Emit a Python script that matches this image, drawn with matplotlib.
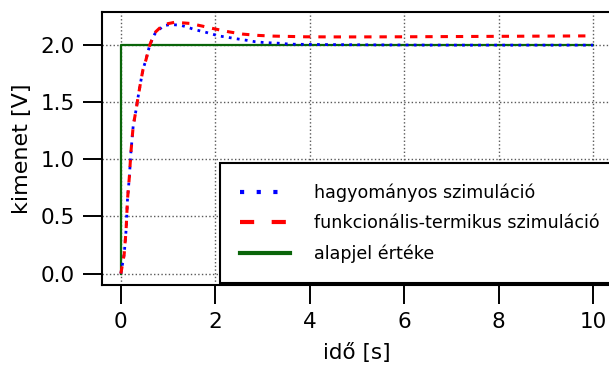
import numpy as np
import matplotlib
matplotlib.use("Agg")
import matplotlib.pyplot as plt
from matplotlib.lines import Line2D

plt.rcParams['font.family'] = 'DejaVu Sans'

# hagyomanyos szimulacio
t_hagy = [0, 0.07, 0.11, 0.14, 0.18, 0.21, 0.26, 0.32, 0.37, 0.42, 0.47, 0.53,
          0.61, 0.72, 0.90, 1.05, 1.25, 1.39, 1.53, 1.67, 1.82, 1.94, 2.08,
          2.24, 2.38, 2.54, 2.70, 2.84, 3.0, 3.17, 3.33, 3.51, 3.67, 3.84,
          4.0, 5, 6, 7, 8, 9, 10]
v_hagy = [0, 0.17, 0.38, 0.65, 0.85, 1.05, 1.29, 1.43, 1.56, 1.68, 1.79, 1.87,
          2.0, 2.10, 2.17, 2.18, 2.175, 2.16, 2.14, 2.125, 2.11, 2.096, 2.08,
          2.07, 2.06, 2.05, 2.04, 2.03, 2.024, 2.02, 2.017, 2.011, 2.008, 2.007,
          2.006, 2.003, 2.001, 2.0, 2.0, 2.0, 2.0]

# funkcionalis-termikus szimulacio
t_func = [0, 0.07, 0.11, 0.14, 0.18, 0.21, 0.26, 0.32, 0.37, 0.42, 0.47, 0.53,
          0.61, 0.72, 0.90, 1.14, 1.46, 1.73, 2.01, 2.29, 2.59, 2.91, 3.23,
          3.57, 3.90, 4.5, 5.0, 6, 7, 8, 9, 10]
v_func = [0, 0.17, 0.38, 0.65, 0.85, 1.05, 1.29, 1.43, 1.56, 1.68, 1.79, 1.87,
          2.0, 2.11, 2.18, 2.20, 2.19, 2.166, 2.14, 2.116, 2.096, 2.085, 2.079,
          2.076, 2.073, 2.072, 2.072, 2.073, 2.075, 2.077, 2.079, 2.081]

# alapjel
t_ref = [0, 0, 10]
v_ref = [0, 2.0, 2.0]

labels = ["hagyományos szimuláció", "funkcionális-termikus szimuláció", "alapjel értéke"]

fig = plt.figure(figsize=(6.09, 3.68), dpi=100)
ax = fig.add_axes([102/609, 83/368, 510/609, 273/368])

ax.plot(t_ref, v_ref, color='#0a650a', lw=1.6, zorder=2)
ax.plot(t_hagy, v_hagy, color='blue', lw=2, linestyle=(0, (1, 1.9)), zorder=3)
ax.plot(t_func, v_func, color='red', lw=2.2, linestyle=(0, (2.4, 2.6)), zorder=4)

ax.set_xlim(-0.4, 10.4)
ax.set_ylim(-0.1, 2.29)
ax.set_xticks(np.arange(0, 11, 2))
ax.set_yticks([0.0, 0.5, 1.0, 1.5, 2.0])
ax.set_yticklabels(["0.0", "0.5", "1.0", "1.5", "2.0"])
ax.grid(True, linestyle=':', color='0.35', lw=1)
ax.tick_params(direction='out', length=13.5, width=1.4, labelsize=15.5, pad=6)
for s in ax.spines.values():
    s.set_linewidth(1.5)

ax.set_xlabel("idő [s]", fontsize=15.5, labelpad=8)
ax.set_ylabel("kimenet [V]", fontsize=16, labelpad=6)

handles = [
    Line2D([], [], color='blue', lw=3, linestyle=(0, (1, 3))),
    Line2D([], [], color='red', lw=3, linestyle=(0, (3.4, 4.2))),
    Line2D([], [], color='#0a650a', lw=3),
]
leg = ax.legend(handles, labels, loc='lower left',
                bbox_to_anchor=((220-102)/510, 2/273), fontsize=12.6,
                handlelength=2.85, handletextpad=1.4, labelspacing=0.7,
                borderpad=1.15, borderaxespad=0, fancybox=False, framealpha=1,
                edgecolor='black')
leg.get_frame().set_linewidth(1.5)
leg.set_zorder(5)

fig.savefig("out.png", dpi=100)
